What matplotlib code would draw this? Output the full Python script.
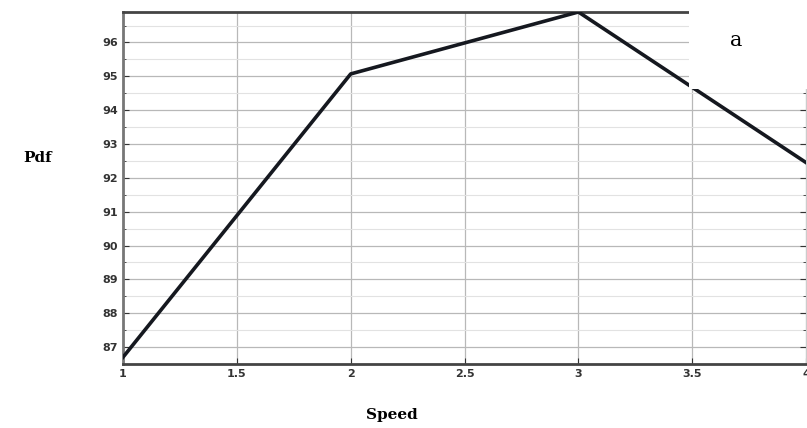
import numpy as np
import matplotlib.pyplot as plt
from matplotlib.patches import Rectangle

# datos
speed = [1, 2, 3, 4]
pdf = [86.7, 95.07, 96.9, 92.45]

xticks = [1, 1.5, 2, 2.5, 3, 3.5, 4]
yticks = [87, 88, 89, 90, 91, 92, 93, 94, 95, 96]

fig = plt.figure(figsize=(8.07, 4.28), dpi=100)
ax = fig.add_axes([0.1524, 0.1495, 0.8465, 0.8225])

ax.plot(speed, pdf, color='#15181f', linewidth=2.6, zorder=3)

ax.set_xlim(1, 4)
ax.set_ylim(86.65, 96.9)
ax.set_xticks(xticks)
ax.set_xticklabels([f'{t:g}' for t in xticks])
ax.set_yticks(yticks)
ax.set_yticks(np.arange(86.5, 97, 0.5), minor=True)

ax.grid(True, which='major', color='#b8b8b8', linewidth=0.9)
ax.grid(True, which='minor', axis='y', color='#e2e2e2', linewidth=0.8)
ax.set_axisbelow(True)

ax.tick_params(which='both', direction='in', right=True, top=False,
               labelsize=8, colors='#333333', length=4)
ax.tick_params(which='minor', length=2)
for lab in ax.get_xticklabels() + ax.get_yticklabels():
    lab.set_fontweight('bold')

for s in ['top', 'bottom']:
    ax.spines[s].set_linewidth(2)
    ax.spines[s].set_color('#444444')
ax.spines['left'].set_linewidth(2)
ax.spines['left'].set_color('#777777')
ax.spines['right'].set_linewidth(0.8)
ax.spines['right'].set_color('#cccccc')

# recuadro blanco con la letra
caja = Rectangle((0.828, 0.78), 0.2, 0.25, transform=ax.transAxes,
                 facecolor='white', edgecolor='none', zorder=4, clip_on=False)
ax.add_patch(caja)
ax.text(0.897, 0.92, 'a', transform=ax.transAxes, fontsize=15,
        family='DejaVu Serif', ha='center', va='center', zorder=5)

fig.text(0.047, 0.63, 'Pdf', fontsize=11, fontweight='bold',
         family='DejaVu Serif', ha='center', va='center')
fig.text(0.485, 0.03, 'Speed', fontsize=11, fontweight='bold',
         family='DejaVu Serif', ha='center', va='center')

plt.savefig('out.png', dpi=100)
